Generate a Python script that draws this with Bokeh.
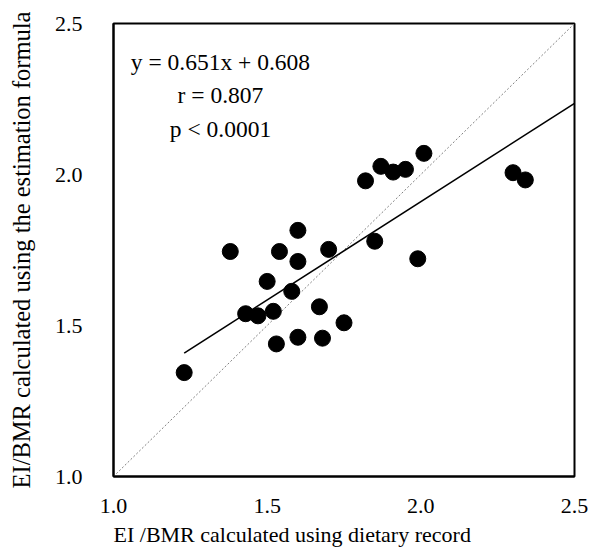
from bokeh.plotting import figure
from bokeh.models import Range1d, FixedTicker, Label, Title, ColumnDataSource
from bokeh.embed import file_html
from bokeh.resources import INLINE

# Data (25 subjects)
x_diet = [1.23, 1.38, 1.43, 1.47, 1.50, 1.52, 1.53, 1.54, 1.58, 1.60, 1.60,
          1.60, 1.70, 1.67, 1.68, 1.75, 1.82, 1.85, 1.87, 1.91, 1.95,
          1.99, 2.01, 2.30, 2.34]
y_est = [1.344, 1.745, 1.539, 1.532, 1.646, 1.547, 1.439, 1.745, 1.613, 1.815,
         1.712, 1.461, 1.752, 1.562, 1.458, 1.509, 1.979, 1.779, 2.027,
         2.008, 2.017, 1.721, 2.070, 2.006, 1.982]

slope = 0.651
intercept = 0.608
ticks = [1.0, 1.5, 2.0, 2.5]
tick_labels = ["1.0", "1.5", "2.0", "2.5"]
annotations = ["y = 0.651x + 0.608", "r = 0.807", "p < 0.0001"]
x_title = "EI /BMR calculated using dietary record"
y_title = "EI/BMR calculated using the estimation formula"

FONT = "'Liberation Serif'"

p = figure(width=589, height=552, output_backend="svg", toolbar_location=None,
           x_range=Range1d(1.0, 2.5), y_range=Range1d(1.0, 2.5),
           min_border_left=113, min_border_right=15, min_border_top=23,
           min_border_bottom=76)

p.xgrid.visible = False
p.ygrid.visible = False
p.outline_line_color = "black"
p.outline_line_width = 2
p.background_fill_color = "white"
p.border_fill_color = "white"

for ax in (p.xaxis[0], p.yaxis[0]):
    ax.ticker = FixedTicker(ticks=ticks)
    ax.major_label_overrides = {t: l for t, l in zip(ticks, tick_labels)}
    ax.major_tick_out = 0
    ax.major_tick_in = 0
    ax.minor_tick_out = 0
    ax.minor_tick_in = 0
    ax.axis_line_color = "black"
    ax.axis_line_width = 2
    ax.major_label_text_font = FONT
    ax.major_label_text_font_size = "22px"
    ax.major_label_text_color = "black"
    ax.axis_label_text_font = FONT
    ax.axis_label_text_font_style = "normal"
    ax.axis_label_text_color = "black"

p.xaxis.major_label_standoff = 22

p.yaxis.axis_label = y_title
p.yaxis.axis_label_text_font_size = "24.5px"
p.yaxis.major_label_standoff = 31
p.yaxis.axis_label_standoff = 17

# x-axis title, left-aligned with the plot frame (below the x axis)
p.add_layout(Title(text=x_title, align="left", text_font=FONT,
                   text_font_size="22px", text_font_style="normal",
                   text_color="black", standoff=9), "below")

# identity line
p.line(x=[ticks[0], ticks[-1]], y=[ticks[0], ticks[-1]], line_color="#808080",
       line_width=1, line_dash="2 2")

# regression line
x0 = min(x_diet)
x1 = ticks[-1]
p.line(x=[x0, x1], y=[slope * x0 + intercept, slope * x1 + intercept],
       line_color="black", line_width=1.6)

src = ColumnDataSource(data=dict(x=x_diet, y=y_est))
p.scatter("x", "y", source=src, size=16, fill_color="black", line_color="black")

ann_y = [2.374, 2.262, 2.152]
for txt, yy in zip(annotations, ann_y):
    p.add_layout(Label(x=1.348, y=yy, text=txt, text_font=FONT,
                       text_font_size="23.5px", text_align="center",
                       text_baseline="middle", text_color="black"))

open("out.html", "w").write(file_html(p, INLINE))
